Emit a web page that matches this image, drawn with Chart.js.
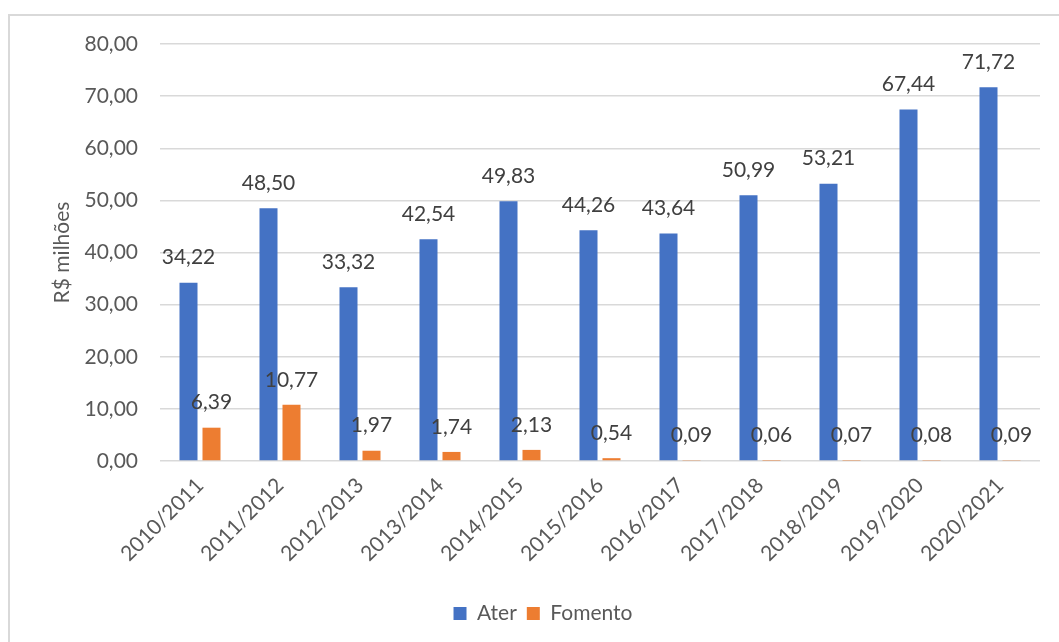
<!DOCTYPE html>
<html>
<head>
<meta charset="utf-8">
<script src="https://cdn.jsdelivr.net/npm/chart.js@4"></script>
<style>
    html, body { margin: 0; padding: 0; background: #fff; overflow: hidden; }
    #frame {
        position: absolute; left: 8px; top: 14px;
        width: 1070px; height: 660px;
        border: 2px solid #d9d9d9; box-sizing: border-box;
    }
    #wrap { position: absolute; left: 0; top: 0; width: 1059px; height: 642px; }
</style>
</head>
<body>
<div id="frame"></div>
<div id="wrap"><canvas id="valuesChart" width="1059" height="642"></canvas></div>
<script>
const seasons = ['2010/2011', '2011/2012', '2012/2013', '2013/2014', '2014/2015', '2015/2016',
    '2016/2017', '2017/2018', '2018/2019', '2019/2020', '2020/2021'];
const aterValues = [34.22, 48.50, 33.32, 42.54, 49.83, 44.26, 43.64, 50.99, 53.21, 67.44, 71.72];
const fomentoValues = [6.39, 10.77, 1.97, 1.74, 2.13, 0.54, 0.09, 0.06, 0.07, 0.08, 0.09];
const yTicks = [0, 10, 20, 30, 40, 50, 60, 70, 80];

const FONT = 'Lato, "Open Sans", sans-serif';
const fmt = v => v.toFixed(2).replace('.', ',');

// value labels above each bar
const barLabels = {
    id: 'barLabels',
    afterDatasetsDraw(chart) {
        const ctx = chart.ctx;
        ctx.save();
        ctx.font = '21px ' + FONT;
        ctx.fillStyle = '#404040';
        ctx.textAlign = 'center';
        ctx.textBaseline = 'middle';
        chart.data.datasets.forEach((ds, i) => {
            chart.getDatasetMeta(i).data.forEach((bar, j) => {
                ctx.fillText(fmt(ds.data[j]), bar.x, bar.y - 25);
            });
        });
        ctx.restore();
    }
};

const ctx = document.getElementById('valuesChart').getContext('2d');
new Chart(ctx, {
    type: 'bar',
    data: {
        labels: seasons,
        datasets: [
            { label: 'Ater', data: aterValues, backgroundColor: '#4472C4' },
            { label: 'Fomento', data: fomentoValues, backgroundColor: '#ED7D31' }
        ]
    },
    options: {
        responsive: false,
        animation: false,
        categoryPercentage: 0.575,
        barPercentage: 0.783,
        layout: { padding: { top: 44, right: 19, left: 46, bottom: 8 } },
        plugins: {
            legend: {
                position: 'bottom',
                labels: {
                    color: '#595959',
                    font: { family: FONT, size: 21 },
                    boxWidth: 13,
                    boxHeight: 13,
                    padding: 10
                }
            },
            tooltip: { enabled: false }
        },
        scales: {
            x: {
                grid: { display: false },
                border: { display: false },
                ticks: {
                    color: '#595959',
                    font: { family: FONT, size: 21 },
                    minRotation: 45,
                    maxRotation: 45,
                    padding: 4
                },
                afterFit(scale) { scale.height = 132; }
            },
            y: {
                min: 0,
                max: 80,
                afterBuildTicks(scale) { scale.ticks = yTicks.map(v => ({ value: v })); },
                grid: { color: '#d9d9d9', lineWidth: 1.5, drawTicks: false },
                border: { display: false },
                ticks: {
                    color: '#595959',
                    font: { family: FONT, size: 21 },
                    padding: 22,
                    callback: v => fmt(v)
                },
                title: {
                    display: true,
                    text: 'R$ milhões',
                    color: '#595959',
                    font: { family: FONT, size: 21 },
                    padding: 4
                },
                afterFit(scale) { scale.width = 114; }
            }
        }
    },
    plugins: [barLabels]
});
</script>
</body>
</html>
